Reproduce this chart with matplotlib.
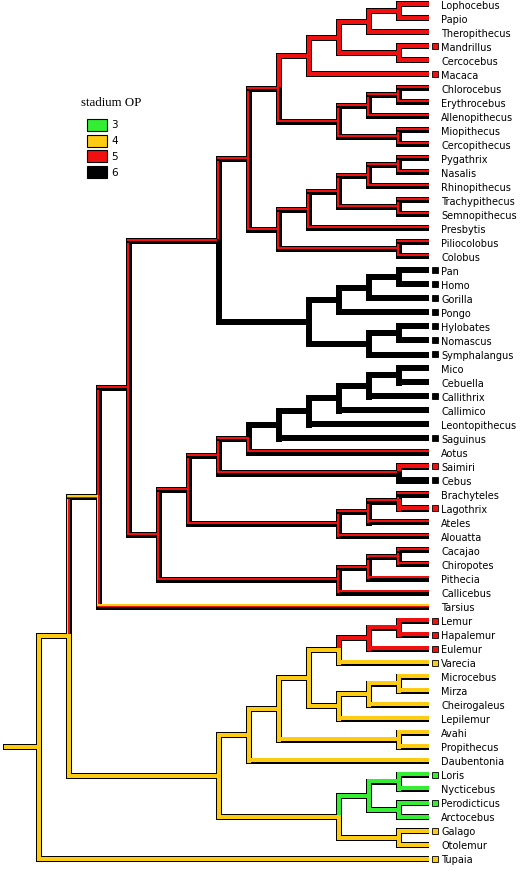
import matplotlib
matplotlib.use("Agg")
import matplotlib.pyplot as plt
import matplotlib.transforms as mtransforms
from matplotlib.patches import Rectangle

# Tree in Newick form; the label after ":" is the reconstructed state of
# "stadium OP" on that branch (two or three digits = equivocal branch)
papionini = "((((Lophocebus:5,Papio:5):5,Theropithecus:5):5,(Mandrillus:5,Cercocebus:5):5):5,Macaca:5):5"
cercopithecini = "(((Chlorocebus:56,Erythrocebus:56):56,Allenopithecus:56):56,(Miopithecus:56,Cercopithecus:56):56):56"
colobinae = ("(((((Pygathrix:56,Nasalis:56):56,Rhinopithecus:56):56,(Trachypithecus:56,Semnopithecus:56):56):56,"
             "Presbytis:56):56,(Piliocolobus:56,Colobus:56):56):56")
hominoidea = "((((Pan:6,Homo:6):6,Gorilla:6):6,Pongo:6):6,((Hylobates:6,Nomascus:6):6,Symphalangus:6):6):6"
cebidae = ("(((((((Mico:6,Cebuella:6):6,Callithrix:6):6,Callimico:6):6,Leontopithecus:6):6,Saguinus:6):6,"
           "Aotus:56):56,(Saimiri:5,Cebus:6):56):56")
atelidae = "(((Brachyteles:56,Lagothrix:5):56,Ateles:56):56,Alouatta:56):56"
pitheciidae = "(((Cacajao:56,Chiropotes:56):56,Pithecia:56):56,Callicebus:56):56"
lemuriformes = ("((((((Lemur:5,Hapalemur:5):5,Eulemur:5):5,Varecia:4):4,(((Microcebus:4,Mirza:4):4,"
                "Cheirogaleus:4):4,Lepilemur:4):4):4,(Avahi:4,Propithecus:4):4):4,Daubentonia:4):4")
lorisiformes = "(((Loris:3,Nycticebus:3):3,(Perodicticus:3,Arctocebus:3):3):3,(Galago:4,Otolemur:4):4):4"

catarrhini = f"(({papionini},{cercopithecini}):56,{colobinae}):56"
catarrhini = f"({catarrhini},{hominoidea}):56"
platyrrhini = f"(({cebidae},{atelidae}):56,{pitheciidae}):56"
haplorhini = f"(({catarrhini},{platyrrhini}):56,Tarsius:456):456"
tree_newick = f"(({haplorhini},({lemuriformes},{lorisiformes}):4):4,Tupaia:4):4"

# taxa with an observed state (small square next to the name)
observed = {"Mandrillus": "5", "Macaca": "5", "Pan": "6", "Homo": "6", "Gorilla": "6",
            "Pongo": "6", "Hylobates": "6", "Nomascus": "6", "Symphalangus": "6",
            "Callithrix": "6", "Saguinus": "6", "Saimiri": "5", "Cebus": "6",
            "Lagothrix": "5", "Lemur": "5", "Hapalemur": "5", "Eulemur": "5",
            "Varecia": "4", "Loris": "3", "Perodicticus": "3", "Galago": "4", "Tupaia": "4"}

legend_states = ["3", "4", "5", "6"]
state_colors = {"3": "#33EE33", "4": "#FDCB12", "5": "#F01010", "6": "#000000"}
root_stem = 1.1


def parse(s):
    pos = 0

    def node():
        nonlocal pos
        children = []
        name = ""
        if s[pos] == "(":
            pos += 1
            children.append(node())
            while s[pos] == ",":
                pos += 1
                children.append(node())
            pos += 1
        else:
            start = pos
            while s[pos] not in ":,)":
                pos += 1
            name = s[start:pos]
        state = ""
        if pos < len(s) and s[pos] == ":":
            pos += 1
            start = pos
            while pos < len(s) and s[pos] not in ",)":
                pos += 1
            state = s[start:pos]
        return {"name": name, "children": children, "state": state}

    return node()


tree = parse(tree_newick)
tips = []


def layout(n):
    if not n["children"]:
        n["x"] = 0
        n["y"] = len(tips)
        tips.append(n)
    else:
        for c in n["children"]:
            layout(c)
        n["x"] = max(c["x"] for c in n["children"]) + 1
        n["y"] = (n["children"][0]["y"] + n["children"][-1]["y"]) / 2


layout(tree)

W, H = 525, 871
fig = plt.figure(figsize=(W / 100, H / 100), dpi=100)
ax = fig.add_axes([0, 0, 1, 1])
# one level = 30 px, one tip = 14 px
px_x, px_y = 30.0, 14.0
x0, y0 = 429.0, 4.5
ax.set_xlim(x0 / px_x, (x0 - W) / px_x)
ax.set_ylim((H - y0) / px_y, -y0 / px_y)
ax.axis("off")

ho, hi = 3.0, 2.0  # outer / inner half width in px

segments = []  # (kind, fixed, a, b, is_tip, state)


def collect(p):
    for c in p["children"]:
        segments.append(("v", p["x"], p["y"], c["y"], False, c["state"]))
        segments.append(("h", c["y"], c["x"], p["x"], not c["children"], c["state"]))
        collect(c)


segments.append(("h", tree["y"], tree["x"], tree["x"] + root_stem, False, tree["state"]))
collect(tree)


def draw_seg(seg, half, colors, z):
    kind, fixed, a, b, is_tip, _ = seg
    n = len(colors)
    hx, hy = half / px_x, half / px_y
    if kind == "v":
        ylo, yhi = min(a, b) - hy, max(a, b) + hy
        step = 2 * hx / n
        for k, col in enumerate(colors):
            left = fixed + hx - k * step
            ax.add_patch(Rectangle((left - step, ylo), step, yhi - ylo,
                                   facecolor=col, lw=0, zorder=z))
    else:
        xa, xb = a, b + hx
        step = 2 * hy / n
        for k, col in enumerate(colors):
            top = fixed - hy + k * step
            ax.add_patch(Rectangle((xa, top), xb - xa, step,
                                   facecolor=col, lw=0, zorder=z))


for seg in segments:
    draw_seg(seg, ho, ["black"], 1)
for seg in segments:
    draw_seg(seg, hi, [state_colors[s] for s in seg[5]], 2)

# tip labels and observed-state squares
lab_tr = mtransforms.offset_copy(ax.transData, fig=fig, x=12, y=-1.5, units="dots")
sq_tr = mtransforms.offset_copy(ax.transData, fig=fig, x=5.5, y=0, units="dots")
for t in tips:
    ax.text(t["x"], t["y"], t["name"], transform=lab_tr, fontsize=7,
            family="DejaVu Sans", va="center", ha="left")
    if t["name"] in observed:
        ax.plot(t["x"], t["y"], marker="s", ms=3.8, mfc=state_colors[observed[t["name"]]],
                mec="black", mew=0.6, transform=sq_tr, zorder=3, clip_on=False)

# legend
fig.text(81 / W, 1 - 103 / H, "stadium OP", family="Liberation Serif", fontsize=9.3,
         va="center", ha="left")
for i, st in enumerate(legend_states):
    top = 119 + i * 15.7
    fig.patches.append(Rectangle((87 / W, 1 - (top + 12) / H), 20 / W, 12 / H,
                                 facecolor=state_colors[st], edgecolor="black", lw=0.8,
                                 transform=fig.transFigure, figure=fig))
    fig.text(111 / W, 1 - (top + 6.5) / H, st, fontsize=7.5, family="DejaVu Sans",
             va="center", ha="left")

fig.savefig("out.png", dpi=100)
